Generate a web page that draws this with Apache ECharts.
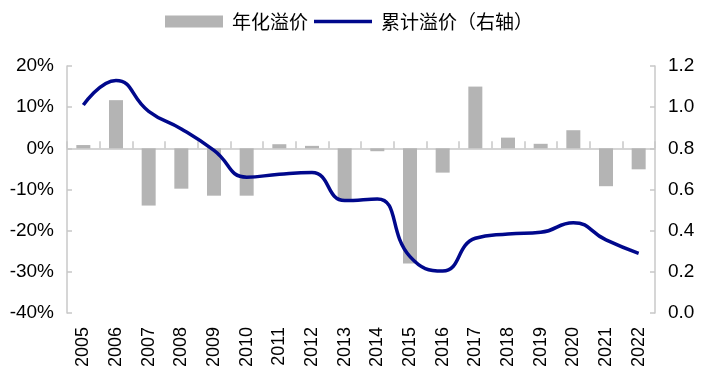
<!DOCTYPE html>
<html><head><meta charset="utf-8">
<script src="https://cdn.jsdelivr.net/npm/echarts@6/dist/echarts.min.js"></script>
<style>html,body{margin:0;padding:0;background:#fff}#c{width:711px;height:387px}</style>
</head><body><div id="c"></div>
<script>
var years = ['2005','2006','2007','2008','2009','2010','2011','2012','2013','2014','2015','2016','2017','2018','2019','2020','2021','2022'];
var annualPremium = [0.8, 11.7, -13.9, -9.8, -11.5, -11.5, 1.0, 0.6, -12.6, -0.7, -28.0, -5.9, 15.0, 2.6, 1.1, 4.4, -9.2, -5.1];
var cumulativePremium = [1.01, 1.13, 0.98, 0.894, 0.79, 0.66, 0.674, 0.682, 0.546, 0.554, 0.274, 0.204, 0.363, 0.384, 0.392, 0.439, 0.355, 0.29];
var leftTicks = {min: -40, max: 20, interval: 10};
var rightTicks = {min: 0, max: 1.2, interval: 0.2};

var font = 'Liberation Sans, Arial, sans-serif';
var cjk = 'Noto Sans CJK SC, sans-serif';
var axisGrey = '#c8c8c8';
var lineBlue = '#00088c';
var chart = echarts.init(document.getElementById('c'));
chart.setOption({
  animation: false,
  legend: {
    top: 7, left: 160,
    itemWidth: 58, itemHeight: 12, itemGap: 6,
    textStyle: {fontFamily: cjk, fontSize: 19, color: '#000', padding: [0,0,0,4]},
    data: [
      {name: '年化溢价', icon: 'rect'},
      {name: '累计溢价（右轴）', icon: 'path://M0,0 M0,4.2 L58,4.2 L58,7.8 L0,7.8 Z M58,12', itemStyle: {color: lineBlue}}
    ]
  },
  grid: {left: 67, right: 56, top: 66, bottom: 74, containLabel: false},
  xAxis: [{
    type: 'category', data: years, position: 'bottom',
    axisLine: {show: false, onZero: false}, axisTick: {show: false},
    axisLabel: {rotate: 90, fontFamily: font, fontSize: 18, color: '#000', margin: 14, interval: 0}
  }, {
    type: 'category', data: years, position: 'bottom',
    axisLine: {show: true, onZero: true, onZeroAxisIndex: 0, lineStyle: {color: axisGrey, width: 1.5}},
    axisTick: {show: true, inside: true, length: 7, interval: 0, lineStyle: {color: axisGrey, width: 1.5}},
    axisLabel: {show: false}
  }],
  yAxis: [{
    type: 'value', min: leftTicks.min, max: leftTicks.max, interval: leftTicks.interval,
    axisLine: {show: true, lineStyle: {color: axisGrey, width: 1.5}},
    axisTick: {show: true, inside: true, length: 5, lineStyle: {color: axisGrey, width: 1.5}},
    splitLine: {show: false},
    axisLabel: {formatter: '{value}%', fontFamily: font, fontSize: 19, color: '#000', margin: 13}
  }, {
    type: 'value', min: rightTicks.min, max: rightTicks.max, interval: rightTicks.interval, position: 'right',
    axisLine: {show: true, lineStyle: {color: axisGrey, width: 1.5}},
    axisTick: {show: true, inside: true, length: 5, lineStyle: {color: axisGrey, width: 1.5}},
    splitLine: {show: false},
    axisLabel: {formatter: function(v){return v.toFixed(1);}, fontFamily: font, fontSize: 19, color: '#000', margin: 13}
  }],
  series: [{
    name: '年化溢价', type: 'bar', data: annualPremium, xAxisIndex: 0, yAxisIndex: 0,
    barWidth: 14, itemStyle: {color: '#b4b4b4'}
  }, {
    name: '累计溢价（右轴）', type: 'line', data: cumulativePremium, xAxisIndex: 0, yAxisIndex: 1,
    smooth: 0.5, symbol: 'none', lineStyle: {color: lineBlue, width: 3.5}, itemStyle: {color: lineBlue}, z: 5
  }]
});
</script></body></html>
